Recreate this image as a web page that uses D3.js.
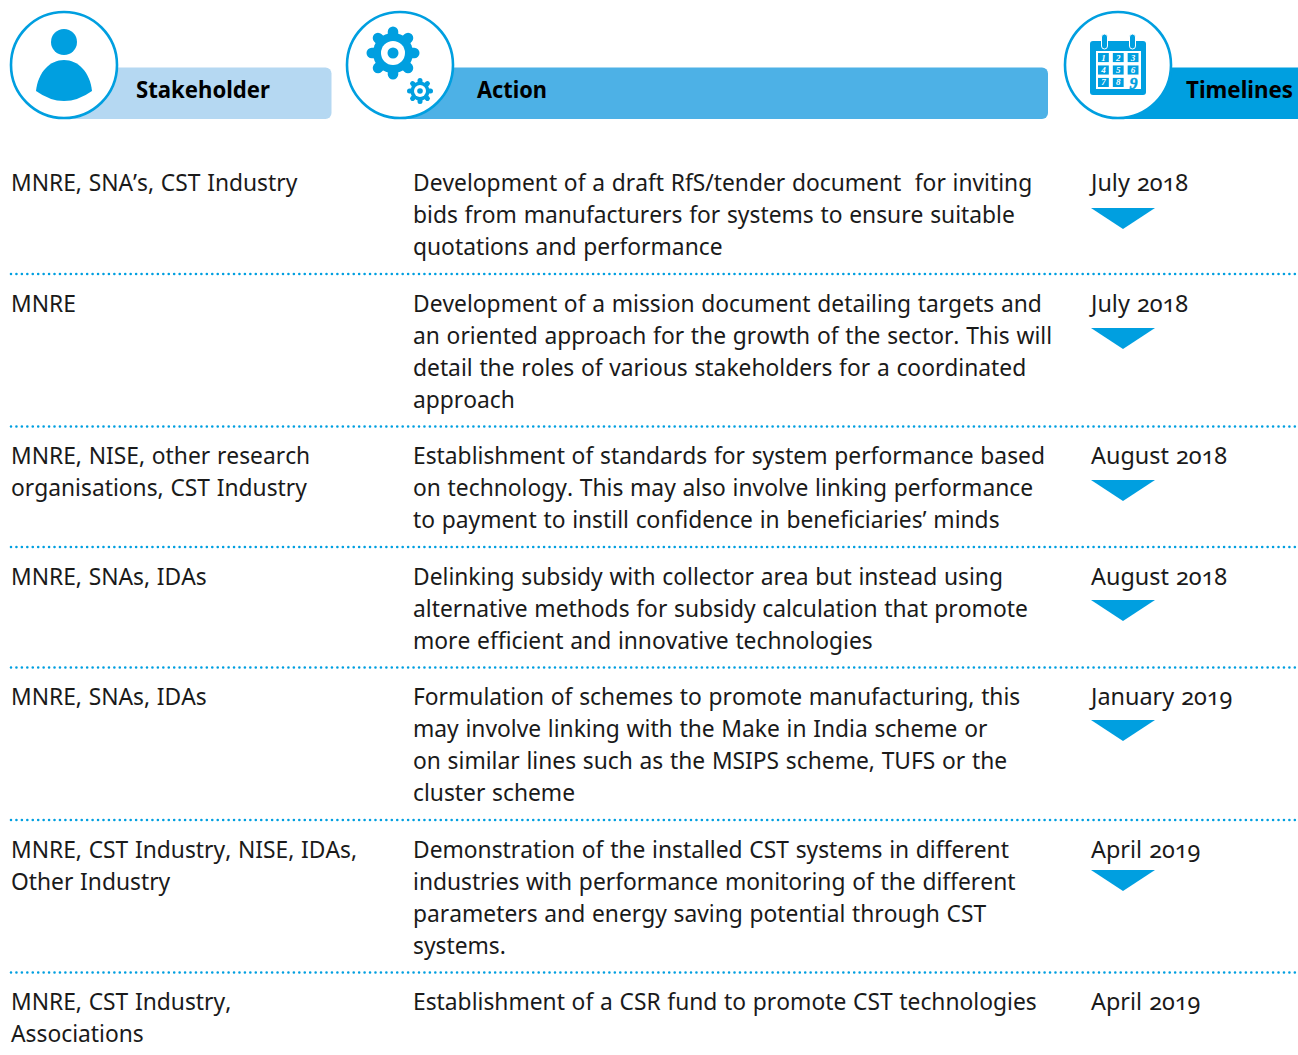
<!DOCTYPE html>
<html>
<head>
<meta charset="utf-8">
<script src="https://cdn.jsdelivr.net/npm/d3@7"></script>
<style>
    html, body { margin: 0; padding: 0; background: #fff; }
    svg { display: block; }
    text { font-family: 'Noto Sans', sans-serif; white-space: pre; }
    .cell { font-size: 22.8px; word-spacing: 0.8px; font-kerning: none; fill: #1a1a1a; }
    .date { font-size: 23.4px; word-spacing: 1px; font-feature-settings: 'onum' 1; }
    .head { font-size: 23px; font-weight: 700; fill: #000; }
</style>
</head>
<body>
<svg id="chart"></svg>
<script>
const stakeholders = [
    ['MNRE, SNA’s, CST Industry'],
    ['MNRE'],
    ['MNRE, NISE, other research', 'organisations, CST Industry'],
    ['MNRE, SNAs, IDAs'],
    ['MNRE, SNAs, IDAs'],
    ['MNRE, CST Industry, NISE, IDAs,', 'Other Industry'],
    ['MNRE, CST Industry,', 'Associations'],
];
const actions = [
    ['Development of a draft RfS/tender document  for inviting', 'bids from manufacturers for systems to ensure suitable', 'quotations and performance'],
    ['Development of a mission document detailing targets and', 'an oriented approach for the growth of the sector. This will', 'detail the roles of various stakeholders for a coordinated', 'approach'],
    ['Establishment of standards for system performance based', 'on technology. This may also involve linking performance', 'to payment to instill confidence in beneficiaries’ minds'],
    ['Delinking subsidy with collector area but instead using', 'alternative methods for subsidy calculation that promote', 'more efficient and innovative technologies'],
    ['Formulation of schemes to promote manufacturing, this', 'may involve linking with the Make in India scheme or', 'on similar lines such as the MSIPS scheme, TUFS or the', 'cluster scheme'],
    ['Demonstration of the installed CST systems in different', 'industries with performance monitoring of the different', 'parameters and energy saving potential through CST', 'systems.'],
    ['Establishment of a CSR fund to promote CST technologies'],
];
const timelines = ['July 2018', 'July 2018', 'August 2018', 'August 2018', 'January 2019', 'April 2019', 'April 2019'];
const hasArrow = [true, true, true, true, true, true, false];
const headers = ['Stakeholder', 'Action', 'Timelines'];
const calendarDays = ['1', '2', '3', '4', '5', '6', '7', '8'];

const width = 1298;
const height = 1055;
const BLUE = '#009fe0';
const lineHeight = 32;
const rowGap = 24.5;
// Arrows do not sit at a constant distance below the date in the original.
const arrowDrop = [17, 16.5, 16, 15.5, 15, 12.5, 0];

const svg = d3.select('#chart').attr('width', width).attr('height', height);

// Row tops come from how many lines each row needs.
const rowHeights = actions.map((a, i) => Math.max(a.length, stakeholders[i].length) * lineHeight + rowGap);
const rowOffsets = [0, ...d3.cumsum(rowHeights)];
const y = d3.scaleLinear().domain([0, 1]).range([191, 192]);

// Header bands.
const bands = [
    { x: 70, w: 261.5, fill: '#b5d8f2', textX: 136, cx: 64 },
    { x: 400, w: 648, fill: '#4db1e6', textX: 477, cx: 400 },
    { x: 1118, w: 190, fill: BLUE, textX: 1186, cx: 1118 },
];
const header = svg.append('g').selectAll('g').data(bands).enter().append('g');
header.append('rect')
    .attr('x', d => d.x).attr('y', 67.5)
    .attr('width', d => d.w).attr('height', 51.5)
    .attr('rx', 6)
    .attr('fill', d => d.fill);
header.append('circle')
    .attr('cx', d => d.cx).attr('cy', 65).attr('r', 53)
    .attr('fill', '#fff').attr('stroke', BLUE).attr('stroke-width', 2.6);
header.append('text')
    .attr('class', 'head')
    .attr('x', d => d.textX).attr('y', 98)
    .attr('textLength', (d, i) => [134, 70, 107][i])
    .attr('lengthAdjust', 'spacingAndGlyphs')
    .text((d, i) => headers[i]);

// Person icon.
const person = svg.append('g').attr('fill', BLUE);
person.append('circle').attr('cx', 64).attr('cy', 42).attr('r', 13);
person.append('path').attr('d', 'M36 91C38 72 50 60 64 60C78 60 90 72 92 91Q64 111 36 91Z');

// Gear icons.
function drawGear(cx, cy, body, tooth, toothW, hole, pin) {
    const g = svg.append('g').attr('transform', `translate(${cx},${cy})`);
    g.selectAll('rect').data(d3.range(8)).enter().append('rect')
        .attr('x', -toothW / 2).attr('y', -tooth)
        .attr('width', toothW).attr('height', tooth)
        .attr('rx', toothW / 2)
        .attr('fill', BLUE)
        .attr('transform', d => `rotate(${d * 45})`);
    g.append('circle').attr('r', body).attr('fill', BLUE);
    g.append('circle').attr('r', hole).attr('fill', '#fff');
    g.append('circle').attr('r', pin).attr('fill', BLUE);
}
drawGear(393, 53, 20, 26.5, 10.5, 12, 5.5);
drawGear(420, 91, 9.5, 13, 5, 6, 2.8);

// Calendar icon.
const cal = svg.append('g');
cal.append('rect').attr('x', 1090).attr('y', 41).attr('width', 56).attr('height', 54).attr('rx', 3).attr('fill', BLUE);
cal.selectAll('.ring').data([1104.5, 1132.5]).enter().append('rect')
    .attr('class', 'ring')
    .attr('x', d => d - 3).attr('y', 34).attr('width', 6).attr('height', 15).attr('rx', 3)
    .attr('fill', BLUE).attr('stroke', '#fff').attr('stroke-width', 1);
cal.append('rect').attr('x', 1096).attr('y', 51).attr('width', 45).attr('height', 38).attr('fill', '#fff');
const dayX = d3.scaleBand().domain(d3.range(3)).range([1098, 1138.5]).paddingInner(0.27);
const dayY = d3.scaleBand().domain(d3.range(3)).range([53, 87]).paddingInner(0.27);
const days = cal.selectAll('.day').data(calendarDays).enter().append('g').attr('class', 'day')
    .attr('transform', (d, i) => `translate(${dayX(i % 3)},${dayY(Math.floor(i / 3))})`);
days.append('rect').attr('width', dayX.bandwidth()).attr('height', dayY.bandwidth()).attr('fill', BLUE);
days.append('text')
    .attr('x', dayX.bandwidth() / 2).attr('y', dayY.bandwidth() / 2 + 3)
    .attr('text-anchor', 'middle')
    .attr('fill', '#fff')
    .attr('font-size', 9)
    .attr('font-style', 'italic')
    .attr('font-weight', 700)
    .style('font-family', "'Liberation Serif', serif")
    .text(d => d);
cal.append('text')
    .attr('x', 1133.5).attr('y', 89)
    .attr('text-anchor', 'middle')
    .attr('fill', BLUE)
    .attr('stroke', BLUE)
    .attr('stroke-width', 0.5)
    .attr('font-size', 16)
    .attr('font-style', 'italic')
    .attr('font-weight', 700)
    .style('font-family', "'Liberation Serif', serif")
    .text('9');

// Table rows.
const rows = svg.append('g').selectAll('g').data(d3.range(7)).enter().append('g')
    .attr('transform', i => `translate(0,${y(rowOffsets[i])})`);

function addLines(sel, x, linesOf) {
    sel.append('text')
        .attr('class', 'cell')
        .selectAll('tspan')
        .data(i => linesOf[i])
        .enter()
        .append('tspan')
        .attr('x', x)
        .attr('y', (d, i) => i * lineHeight)
        .text(d => d);
}
addLines(rows, 11, stakeholders);
addLines(rows, 413, actions);

rows.append('text')
    .attr('class', 'cell date')
    .attr('x', 1091)
    .text(i => timelines[i]);

rows.filter(i => hasArrow[i]).append('path')
    .attr('d', i => `M1091 ${arrowDrop[i]}H1155L1123 ${arrowDrop[i] + 21}Z`)
    .attr('fill', BLUE);

// Dotted separators sit above every row except the first.
svg.append('g').selectAll('line').data(rowOffsets.slice(1, 7)).enter().append('line')
    .attr('x1', 11).attr('x2', 1297)
    .attr('y1', d => y(d) - 37.5).attr('y2', d => y(d) - 37.5)
    .attr('stroke', BLUE)
    .attr('stroke-width', 2.6)
    .attr('stroke-linecap', 'round')
    .attr('stroke-dasharray', '0 5.44');
</script>
</body>
</html>
